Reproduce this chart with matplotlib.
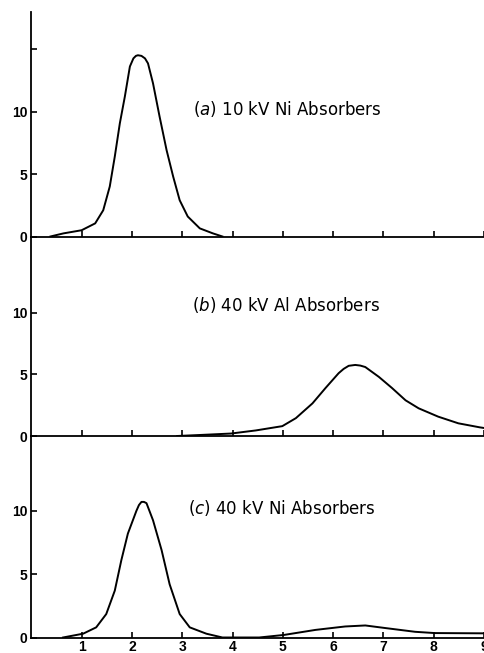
import matplotlib
matplotlib.use("Agg")
import matplotlib.pyplot as plt

plt.rcParams["font.family"] = ["Liberation Sans", "DejaVu Sans"]
plt.rcParams["mathtext.fontset"] = "custom"
plt.rcParams["mathtext.rm"] = "DejaVu Sans"
plt.rcParams["mathtext.it"] = "DejaVu Sans:italic"

# panel (a): 10 kV, Ni absorbers
a_x = [0.38, 0.64, 1.00, 1.27, 1.43, 1.56, 1.66, 1.76, 1.86, 1.96, 2.03, 2.08,
       2.12, 2.19, 2.26, 2.32, 2.42, 2.55, 2.69, 2.82, 2.95, 3.11, 3.35, 3.61,
       3.80]
a_y = [0.0, 0.25, 0.5, 1.05, 2.1, 4.0, 6.4, 9.05, 11.2, 13.6, 14.25, 14.45,
       14.5, 14.45, 14.25, 13.85, 12.25, 9.6, 6.9, 4.8, 2.9, 1.6, 0.65, 0.25,
       0.0]

# panel (b): 40 kV, Al absorbers
b_x = [2.90, 3.34, 3.97, 4.46, 4.99, 5.26, 5.59, 5.85, 6.11, 6.21, 6.31, 6.44,
       6.54, 6.64, 6.91, 7.17, 7.44, 7.70, 8.09, 8.49, 8.92, 9.00]
b_y = [0.0, 0.08, 0.2, 0.45, 0.8, 1.45, 2.65, 3.9, 5.1, 5.45, 5.7, 5.77,
       5.72, 5.6, 4.8, 3.9, 2.9, 2.25, 1.57, 1.03, 0.7, 0.65]

# panel (c): 40 kV, Ni absorbers
c_x = [0.63, 1.03, 1.29, 1.49, 1.66, 1.79, 1.92, 2.09, 2.14, 2.19, 2.24, 2.29,
       2.42, 2.59, 2.75, 2.95, 3.15, 3.48, 3.80, 4.53, 5.02, 5.65, 6.24, 6.64,
       7.03, 7.63, 8.02, 8.94, 9.00]
c_y = [0.0, 0.3, 0.8, 1.85, 3.7, 6.1, 8.2, 10.0, 10.45, 10.7, 10.7, 10.6,
       9.25, 6.9, 4.2, 1.85, 0.8, 0.3, 0.0, 0.0, 0.2, 0.6, 0.87, 0.95,
       0.75, 0.45, 0.35, 0.33, 0.33]

labels = ["($\\mathit{a}$) 10 kV Ni Absorbers",
          "($\\mathit{b}$) 40 kV Al Absorbers",
          "($\\mathit{c}$) 40 kV Ni Absorbers"]
x_ticks = [1, 2, 3, 4, 5, 6, 7, 8, 9]

W, H = 484, 653
fig = plt.figure(figsize=(W / 100, H / 100), dpi=100)

# (top px, bottom px, ymax, y ticks, label pos, data)
panels = [
    (12, 236.5, 17.96, [0, 5, 10, 15], (3.22, 10.2), a_x, a_y),
    (236.5, 436, 16.2, [0, 5, 10], (3.20, 10.6), b_x, b_y),
    (436, 637.5, 15.9, [0, 5, 10], (3.12, 10.2), c_x, c_y),
]
left_px = 31.3
for i, (top, bot, ymax, yt, lpos, xs, ys) in enumerate(panels):
    ax = fig.add_axes([left_px / W, 1 - bot / H, 1 - left_px / W, (bot - top) / H])
    ax.plot(xs, ys, color="black", linewidth=1.4)
    ax.set_xlim(0, 9.0)
    ax.set_ylim(0, ymax)
    ax.spines["top"].set_visible(False)
    ax.spines["right"].set_visible(False)
    for s in ("left", "bottom"):
        ax.spines[s].set_linewidth(1.3)
    ax.set_yticks(yt)
    ax.set_yticklabels([str(t) if t < 15 else "" for t in yt])
    ax.set_xticks(x_ticks)
    if i < 2:
        ax.set_xticklabels([])
    else:
        ax.set_xticklabels([str(t) for t in x_ticks])
    ax.tick_params(direction="in", length=4, width=1.2, pad=3,
                   labelsize=10)
    ax.tick_params(axis="x", pad=2)
    for lab in ax.get_xticklabels() + ax.get_yticklabels():
        lab.set_fontweight("bold")
    ax.patch.set_alpha(0)
    ax.text(lpos[0], lpos[1], labels[i], fontsize=12, family="DejaVu Sans",
            ha="left", va="center")

fig.savefig("out.png", dpi=100)
